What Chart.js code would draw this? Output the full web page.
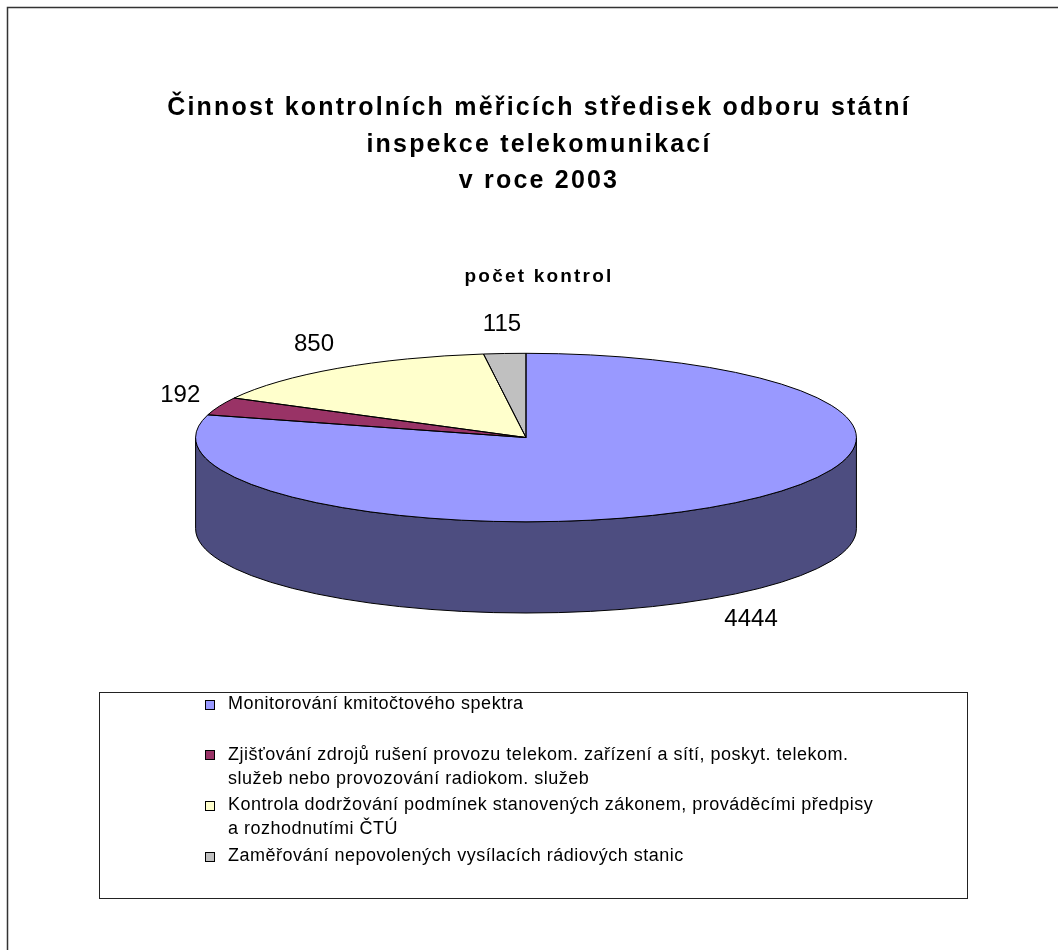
<!DOCTYPE html>
<html>
<head>
<meta charset="utf-8">
<title>Činnost kontrolních měřicích středisek</title>
<script src="https://cdn.jsdelivr.net/npm/chart.js@4/dist/chart.umd.min.js"></script>
<style>
  body { margin: 0; background: #fff; }
  canvas { display: block; }
</style>
</head>
<body>
<canvas id="myChart" width="1058" height="950"></canvas>
<script>
// data
var titleLines = ['Činnost kontrolních měřicích středisek odboru státní', 'inspekce telekomunikací', 'v roce 2003']
var seriesName = 'počet kontrol'
var categories = [
  'Monitorování kmitočtového spektra',
  ['Zjišťování zdrojů rušení provozu telekom. zařízení a sítí, poskyt. telekom.', 'služeb nebo provozování radiokom. služeb'],
  ['Kontrola dodržování podmínek stanovených zákonem, prováděcími předpisy', 'a rozhodnutími ČTÚ'],
  'Zaměřování nepovolených vysílacích rádiových stanic'
]
var counts = [4444, 192, 850, 115]

var colors = ['#9999ff', '#993366', '#ffffcc', '#c0c0c0']
var FONT = 'Arial, "Liberation Sans", sans-serif'

// darker tone for the pie's side wall
function shade(hex) {
  var n = parseInt(hex.slice(1), 16)
  var r = (n >> 16) & 255, g = (n >> 8) & 255, b = n & 255
  return 'rgb(' + Math.round(r * 0.5) + ',' + Math.round(g * 0.5) + ',' + Math.round(b * 0.5) + ')'
}

// ellipse that fits the chart area (top face + depth)
function ellipseOf(chart, o) {
  var a = chart.chartArea
  var k = 2 * o.tilt + o.depth
  var rx = Math.min(a.width / 2, a.height / k)
  return {
    x: (a.left + a.right) / 2 + o.dx,
    y: a.top + (a.height - rx * k) / 2 + rx * o.tilt,
    rx: rx, ry: rx * o.tilt, depth: rx * o.depth
  }
}

var spacedTitles = {
  id: 'spacedTitles',
  beforeDraw: function(chart, args, o) {
    chart.ctx.letterSpacing = o.spacing
  }
}

var pie3d = {
  id: 'pie3d',
  beforeDatasetsDraw: function(chart, args, o) {
    var ctx = chart.ctx
    ctx.letterSpacing = '0px'
    var meta = chart.getDatasetMeta(0)
    var e = ellipseOf(chart, o)
    ctx.save()
    ctx.lineWidth = 1
    ctx.strokeStyle = '#000'
    meta.data.forEach(function(arc, i) {
      [[0, Math.PI], [2 * Math.PI, 3 * Math.PI]].forEach(function(r) {
        var a1 = Math.max(arc.startAngle, r[0]), a2 = Math.min(arc.endAngle, r[1])
        if (a2 <= a1) return
        ctx.beginPath()
        ctx.ellipse(e.x, e.y, e.rx, e.ry, 0, a1, a2)
        ctx.ellipse(e.x, e.y + e.depth, e.rx, e.ry, 0, a2, a1, true)
        ctx.closePath()
        ctx.fillStyle = shade(colors[i])
        ctx.fill()
        ctx.stroke()
      })
    })
    ctx.restore()
    // squash the library's circle into the ellipse
    var a0 = meta.data[0]
    ctx.save()
    ctx.translate(e.x, e.y)
    ctx.scale(e.rx / a0.outerRadius, e.ry / a0.outerRadius)
    ctx.translate(-a0.x, -a0.y)
  },
  afterDatasetsDraw: function(chart, args, o) {
    var ctx = chart.ctx
    ctx.restore()
    var meta = chart.getDatasetMeta(0)
    var e = ellipseOf(chart, o)
    ctx.save()
    ctx.lineWidth = 1
    ctx.strokeStyle = '#000'
    meta.data.forEach(function(arc) {
      ctx.beginPath()
      ctx.moveTo(e.x, e.y)
      ctx.ellipse(e.x, e.y, e.rx, e.ry, 0, arc.startAngle, arc.endAngle)
      ctx.closePath()
      ctx.stroke()
    })
    // value labels
    ctx.font = o.labelSize + 'px ' + FONT
    ctx.fillStyle = '#000'
    ctx.textAlign = 'center'
    ctx.textBaseline = 'middle'
    meta.data.forEach(function(arc, i) {
      var mid = (arc.startAngle + arc.endAngle) / 2
      var c = Math.cos(mid), s = Math.sin(mid)
      var x = e.x + (e.rx + o.gapX) * c
      var y = e.y + (e.ry + o.gapY) * s + (s > 0 ? e.depth : 0)
      ctx.fillText(String(chart.data.datasets[0].data[i]), x, y)
    })
    ctx.restore()
  }
}

var boxLegend = {
  id: 'boxLegend',
  afterDraw: function(chart, args, o) {
    var ctx = chart.ctx
    ctx.save()
    // outer frame of the chart sheet
    ctx.strokeStyle = '#333'
    ctx.lineWidth = 1.5
    ctx.beginPath()
    ctx.moveTo(o.frame, chart.height)
    ctx.lineTo(o.frame, o.frame)
    ctx.lineTo(chart.width, o.frame)
    ctx.stroke()
    // legend box
    ctx.lineWidth = 1
    ctx.strokeStyle = '#222'
    ctx.strokeRect(o.left + 0.5, o.top + 0.5, o.width, o.height)
    ctx.font = o.fontSize + 'px ' + FONT
    ctx.letterSpacing = o.spacing
    ctx.textBaseline = 'middle'
    ctx.textAlign = 'left'
    chart.data.labels.forEach(function(lab, i) {
      var lines = [].concat(lab)
      var y = o.top + o.firstRow + i * o.rowStep
      var by = Math.round(y - o.boxSize / 2) + 0.5
      ctx.fillStyle = colors[i]
      ctx.fillRect(o.boxX + 0.5, by, o.boxSize, o.boxSize)
      ctx.strokeStyle = '#000'
      ctx.strokeRect(o.boxX + 0.5, by, o.boxSize, o.boxSize)
      ctx.fillStyle = '#000'
      lines.forEach(function(t, j) {
        ctx.fillText(t, o.textX, y + j * o.lineStep)
      })
    })
    ctx.restore()
  }
}

var chart = new Chart(document.getElementById('myChart').getContext('2d'), {
  type: 'pie',
  data: {
    labels: categories,
    datasets: [{
      label: seriesName,
      data: counts,
      backgroundColor: colors,
      borderWidth: 0,
      hoverOffset: 0
    }]
  },
  options: {
    responsive: false,
    animation: false,
    events: [],
    layout: { padding: { top: 90, left: 30, right: 10, bottom: 337 } },
    plugins: {
      legend: { display: false },
      tooltip: { enabled: false },
      title: {
        display: true,
        text: titleLines,
        color: '#000',
        font: { family: FONT, size: 25, weight: 'bold', lineHeight: 1.46 },
        padding: { top: 0, bottom: 66 }
      },
      subtitle: {
        display: true,
        text: seriesName,
        color: '#000',
        font: { family: FONT, size: 19, weight: 'bold', lineHeight: 1.2 },
        padding: { top: 0, bottom: 65 }
      },
      spacedTitles: { spacing: '2.2px' },
      pie3d: { tilt: 0.255, depth: 0.276, dx: -13, gapX: 42, gapY: 29, labelSize: 24 },
      boxLegend: {
        frame: 7.5, left: 99, top: 692, width: 868, height: 206,
        firstRow: 12, rowStep: 50.7, lineStep: 24,
        boxX: 205, boxSize: 9, textX: 228, fontSize: 18, spacing: '0.5px'
      }
    }
  },
  plugins: [spacedTitles, pie3d, boxLegend]
})
</script>
</body>
</html>
